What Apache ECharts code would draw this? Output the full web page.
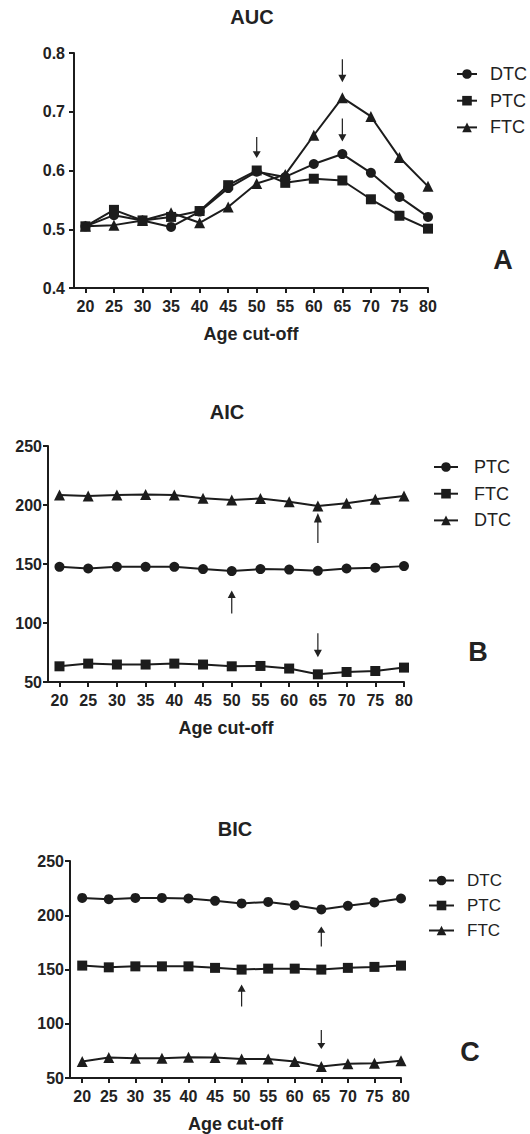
<!DOCTYPE html>
<html>
<head>
<meta charset="utf-8">
<script src="https://cdn.jsdelivr.net/npm/echarts@6/dist/echarts.min.js"></script>
<style>
html,body{margin:0;padding:0;background:#fff;}
#chart{width:530px;height:1134px;}
</style>
</head>
<body>
<div id="chart"></div>
<script>
// ---------- DATA ----------
const ages = [20, 25, 30, 35, 40, 45, 50, 55, 60, 65, 70, 75, 80];

const aucDTC = [0.505, 0.524, 0.515, 0.504, 0.530, 0.570, 0.598, 0.589, 0.611, 0.628, 0.596, 0.555, 0.521];
const aucPTC = [0.505, 0.533, 0.515, 0.521, 0.531, 0.575, 0.600, 0.579, 0.586, 0.583, 0.551, 0.523, 0.501];
const aucFTC = [0.505, 0.507, 0.515, 0.528, 0.511, 0.538, 0.578, 0.593, 0.660, 0.724, 0.692, 0.622, 0.573];

const aicPTC = [147.6, 146.2, 147.6, 147.6, 147.6, 145.7, 144.0, 145.7, 145.3, 144.2, 146.2, 146.8, 148.2];
const aicFTC = [63.3, 65.6, 64.8, 64.8, 65.6, 64.8, 63.3, 63.6, 61.4, 56.5, 58.5, 59.3, 62.2];
const aicDTC = [208.5, 207.6, 208.5, 209.0, 208.5, 205.7, 204.2, 205.5, 202.8, 199.2, 201.5, 204.8, 207.6];

const bicDTC = [216.0, 214.8, 216.0, 216.0, 215.4, 213.3, 210.9, 212.3, 209.3, 205.4, 208.7, 211.8, 215.4];
const bicPTC = [153.6, 152.0, 152.9, 152.9, 152.9, 151.5, 149.9, 150.8, 150.8, 149.9, 151.5, 152.4, 153.6];
const bicFTC = [65.2, 68.8, 68.3, 68.3, 69.2, 68.8, 67.6, 67.6, 65.2, 60.6, 63.1, 63.7, 65.8];

const panelTitles = ['AUC', 'AIC', 'BIC'];
const panelLetters = ['A', 'B', 'C'];
const xTitle = 'Age cut-off';
const aucTicks = [0.4, 0.8, 0.1];      // min, max, interval
const icTicks = [50, 250, 50];

// arrows: panel index, series name, age, direction
const arrows = [
  {p: 0, s: 'PTC', age: 50, dir: 'down'},
  {p: 0, s: 'FTC', age: 65, dir: 'down'},
  {p: 0, s: 'DTC', age: 65, dir: 'down'},
  {p: 1, s: 'PTC', age: 50, dir: 'up'},
  {p: 1, s: 'DTC', age: 65, dir: 'up'},
  {p: 1, s: 'FTC', age: 65, dir: 'down'},
  {p: 2, s: 'PTC', age: 50, dir: 'up'},
  {p: 2, s: 'DTC', age: 65, dir: 'up'},
  {p: 2, s: 'FTC', age: 65, dir: 'down'}
];

// ---------- LAYOUT / STYLE ----------
const FONT = "'Liberation Sans', Arial, Helvetica, sans-serif";
const INK = '#1c1c1c';
const TXT = '#222';

const panels = [
  {grid: {left: 74, top: 53, width: 354, height: 235}, xMin: 18, y: aucTicks, yMargin: 9,
   series: [['DTC', aucDTC, 'circle'], ['PTC', aucPTC, 'rect'], ['FTC', aucFTC, 'triangle']],
   title: [252, 17], letter: [503, 260],
   legend: {left: 451, top: 60, itemGap: 8.7, itemWidth: 20, pad: 8, font: 18}},
  {grid: {left: 48, top: 446, width: 356, height: 236}, xMin: 18, y: icTicks, yMargin: 6,
   series: [['PTC', aicPTC, 'circle'], ['FTC', aicFTC, 'rect'], ['DTC', aicDTC, 'triangle']],
   title: [227, 412], letter: [478, 652],
   legend: {left: 428, top: 453, itemGap: 8.7, itemWidth: 24, pad: 11, font: 18}},
  {grid: {left: 70, top: 861, width: 331, height: 218}, xMin: 17.7, y: icTicks, yMargin: 6,
   series: [['DTC', bicDTC, 'circle'], ['PTC', bicPTC, 'rect'], ['FTC', bicFTC, 'triangle']],
   title: [235, 829], letter: [470, 1052],
   legend: {left: 423, top: 867, itemGap: 8, itemWidth: 25, pad: 8, font: 17}}
];

// arrow geometry (pixels) per arrow, same order as arrows[]
const arrowGeom = [
  {len: 21, off: 23}, {len: 23, off: 27}, {len: 23, off: 24},
  {len: 23, off: 31}, {len: 30, off: 22}, {len: 24, off: 29},
  {len: 22, off: 26}, {len: 20, off: 27}, {len: 19, off: 27}
];
const ARROW_PATH = 'path://M3.45,0 L4.55,0 L4.55,17 L7.6,17 L4,25 L0.4,17 L3.45,17 Z';
const symbolSizes = {circle: 10, rect: 10, triangle: 11};

// ---------- BUILD ----------
const grids = [], xAxes = [], yAxes = [], series = [], legends = [], graphics = [];

panels.forEach((pn, pi) => {
  grids.push(Object.assign({containLabel: false}, pn.grid));
  xAxes.push({
    type: 'value', gridIndex: pi, min: pn.xMin, max: 80,
    name: xTitle, nameLocation: 'middle', nameGap: 37,
    nameTextStyle: {fontFamily: FONT, fontWeight: 'bold', fontSize: 18, color: TXT},
    axisLine: {show: true, onZero: false, lineStyle: {color: INK, width: 2}},
    axisTick: {show: true, customValues: ages, length: 5, lineStyle: {color: INK, width: 2}},
    axisLabel: {customValues: ages, margin: 10, fontFamily: FONT, fontWeight: 'bold', fontSize: 16, color: TXT},
    splitLine: {show: false}
  });
  yAxes.push({
    type: 'value', gridIndex: pi, min: pn.y[0], max: pn.y[1], interval: pn.y[2],
    axisLine: {show: true, lineStyle: {color: INK, width: 2}},
    axisTick: {show: true, length: 5, lineStyle: {color: INK, width: 2}},
    axisLabel: {margin: pn.yMargin, fontFamily: FONT, fontWeight: 'bold', fontSize: 16, color: TXT,
      formatter: v => pi === 0 ? v.toFixed(1) : String(v)},
    splitLine: {show: false}
  });
  const names = [];
  pn.series.forEach(([nm, vals, sym]) => {
    const full = panelLetters[pi] + ':' + nm;
    names.push(full);
    const mp = [];
    arrows.forEach((a, ai) => {
      if (a.p !== pi || a.s !== nm) return;
      const idx = ages.indexOf(a.age);
      const g = arrowGeom[ai];
      mp.push({
        coord: [a.age, vals[idx]],
        symbol: ARROW_PATH,
        symbolSize: [8, g.len],
        symbolRotate: a.dir === 'up' ? 180 : 0,
        symbolOffset: [0, a.dir === 'down' ? -g.off : g.off]
      });
    });
    series.push({
      type: 'line', name: full, xAxisIndex: pi, yAxisIndex: pi,
      data: ages.map((a, i) => [a, vals[i]]),
      symbol: sym, symbolSize: symbolSizes[sym], showSymbol: true,
      lineStyle: {color: INK, width: 2},
      itemStyle: {color: INK, borderColor: INK, borderWidth: 0},
      emphasis: {disabled: true},
      animation: false,
      markPoint: mp.length ? {
        symbolKeepAspect: false, silent: true, animation: false,
        label: {show: false},
        itemStyle: {color: '#222'},
        data: mp
      } : undefined
    });
  });
  legends.push({
    orient: 'vertical', left: pn.legend.left, top: pn.legend.top,
    itemGap: pn.legend.itemGap, itemWidth: pn.legend.itemWidth, itemHeight: 12,
    selectedMode: false, data: names,
    formatter: n => n.split(':')[1],
    textStyle: {fontFamily: FONT, fontSize: pn.legend.font, color: TXT, padding: [0, 0, 0, pn.legend.pad]}
  });
  graphics.push({
    type: 'text', x: pn.title[0], y: pn.title[1], silent: true,
    style: {text: panelTitles[pi], font: 'bold 20px ' + FONT, fill: TXT, textAlign: 'center', textVerticalAlign: 'middle'}
  });
  graphics.push({
    type: 'text', x: pn.letter[0], y: pn.letter[1], silent: true,
    style: {text: panelLetters[pi], font: 'bold 27px ' + FONT, fill: TXT, textAlign: 'center', textVerticalAlign: 'middle'}
  });
});

const chart = echarts.init(document.getElementById('chart'), null, {renderer: 'svg'});
chart.setOption({
  backgroundColor: '#fff',
  animation: false,
  grid: grids, xAxis: xAxes, yAxis: yAxes, series: series,
  legend: legends, graphic: graphics
});
</script>
</body>
</html>
